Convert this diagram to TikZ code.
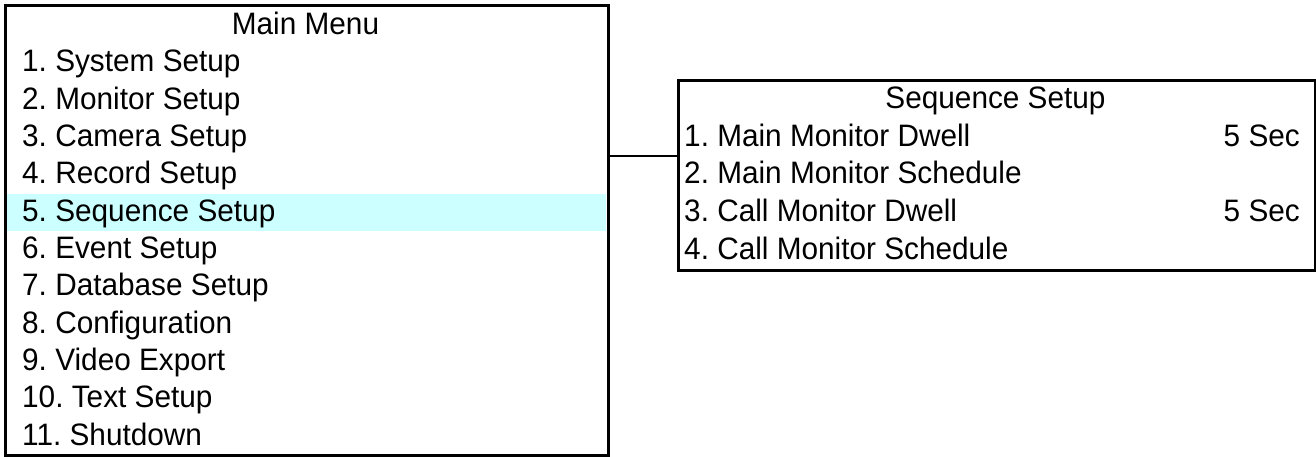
\documentclass[tikz,border=0pt]{standalone}
\usepackage{fontspec}
\setmainfont[FakeStretch=0.96]{Liberation Sans}
\definecolor{hilite}{RGB}{204,255,255}
\begin{document}
\frenchspacing
\begin{tikzpicture}[x=1pt,y=-1pt,
  box/.style={draw=black, line width=2.8pt, inner sep=0pt, anchor=north west},
  item/.style={anchor=base west, inner sep=0pt, font=\fontsize{31}{37}\selectfont},
  ctitle/.style={anchor=base, inner sep=0pt, font=\fontsize{31}{37}\selectfont},
  val/.style={anchor=base east, inner sep=0pt, font=\fontsize{31}{37}\selectfont},
  link/.style={draw=black, line width=2.8pt}]
\useasboundingbox (0,0) rectangle (1316,457);
% highlight of selected row
\fill[hilite] (5,194) rectangle (606,231);
% main menu box
\node[box, minimum width=603pt, minimum height=450pt] (main) at (4,4) {};
\node[ctitle] (mt) at (305.5,35) {Main Menu};
\node[item] (m1) at (22,72) {1. System Setup};
\node[item] (m2) at (22,109.3) {2. Monitor Setup};
\node[item] (m3) at (22,146.6) {3. Camera Setup};
\node[item] (m4) at (22,183.9) {4. Record Setup};
\node[item] (m5) at (22,221.2) {5. Sequence Setup};
\node[item] (m6) at (22,258.5) {6. Event Setup};
\node[item] (m7) at (22,295.8) {7. Database Setup};
\node[item] (m8) at (22,333.1) {8. Configuration};
\node[item] (m9) at (22,370.4) {9. Video Export};
\node[item] (m10) at (22,407.7) {10. Text Setup};
\node[item] (m11) at (22,445) {11. Shutdown};
% sequence setup box
\node[box, minimum width=637pt, minimum height=190pt] (seq) at (677,79) {};
\node[ctitle] (st) at (995.5,109) {Sequence Setup};
\node[item] (s1) at (684,146.5) {1. Main Monitor Dwell};
\node[val] (v1) at (1300,146.5) {5 Sec};
\node[item] (s2) at (684,184) {2. Main Monitor Schedule};
\node[item] (s3) at (684,221.5) {3. Call Monitor Dwell};
\node[val] (v3) at (1300,221.5) {5 Sec};
\node[item] (s4) at (684,259) {4. Call Monitor Schedule};
% connector
\coordinate (cy) at (0,156);
\draw[link] (main.east |- cy) -- (seq.west |- cy);
\end{tikzpicture}
\end{document}
